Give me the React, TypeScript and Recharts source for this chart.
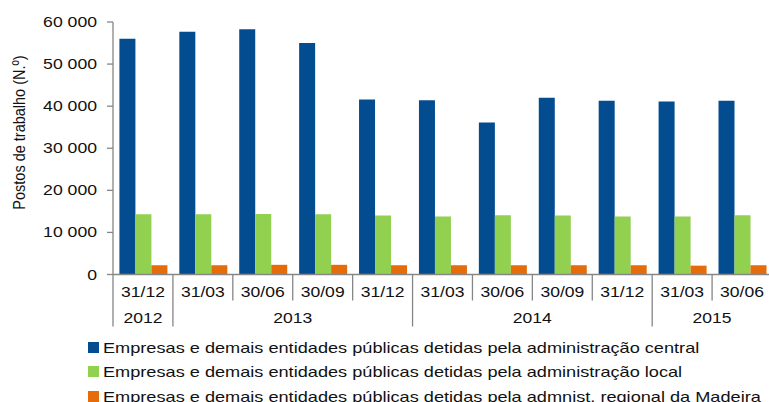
import React from "react";
import { BarChart, Bar, XAxis, YAxis, Legend } from "recharts";

// Postos de trabalho por trimestre
const categories = ["31/12", "31/03", "30/06", "30/09", "31/12", "31/03", "30/06", "30/09", "31/12", "31/03", "30/06"];
const years = ["2012", "2013", "2013", "2013", "2013", "2014", "2014", "2014", "2014", "2015", "2015"];
const central = [56000, 57700, 58300, 55000, 41600, 41400, 36100, 42000, 41300, 41100, 41300];
const local = [14300, 14300, 14400, 14300, 14000, 13800, 14100, 14000, 13800, 13800, 14100];
const madeira = [2200, 2200, 2300, 2300, 2200, 2200, 2200, 2200, 2200, 2100, 2200];
const yTicks = [0, 10000, 20000, 30000, 40000, 50000, 60000];

const seriesNames = [
	"Empresas e demais entidades públicas detidas pela administração central",
	"Empresas e demais entidades públicas detidas pela administração local",
	"Empresas e demais entidades públicas detidas pela admnist. regional da Madeira",
];
const colors = ["#024c8f", "#92d050", "#e46c0a"];

const data = categories.map((c, i) => ({
	label: c,
	year: years[i],
	central: central[i],
	local: local[i],
	madeira: madeira[i],
}));

const W = 772;
const H = 402;
const Y_W = 113;
const BAND = (W - Y_W) / categories.length;
const FONT = "'Liberation Sans', Arial, sans-serif";
const AXIS = "#868686";
const INK = "#111";

const fmt = (v: number) => String(v).replace(/\B(?=(\d{3})+(?!\d))/g, " ");

// the source picture is a bit stretched sideways, so the texts are too
function Stretched({ x, y, sx, size, anchor, children }: any) {
	return (
		<text
			transform={`translate(${x} ${y}) scale(${sx} 1)`}
			textAnchor={anchor}
			fontSize={size}
			fill={INK}
			fontFamily={FONT}
		>
			{children}
		</text>
	);
}

function XTick(props: any) {
	const { x, y, payload } = props;
	const i = payload.index;
	const left = x - BAND / 2;
	const first = i === 0 || years[i] !== years[i - 1];
	let n = 0;
	if (first) {
		while (i + n < years.length && years[i + n] === years[i]) n++;
	}
	return (
		<g>
			<line x1={left} x2={left} y1={y} y2={y + (first ? 52 : 26)} stroke={AXIS} strokeWidth={1.3} />
			<Stretched x={x} y={y + 22.5} sx={1.17} size={15} anchor="middle">
				{payload.value}
			</Stretched>
			{first && (
				<Stretched x={left + (n * BAND) / 2} y={y + 48} sx={1.17} size={15} anchor="middle">
					{years[i]}
				</Stretched>
			)}
		</g>
	);
}

function YTick(props: any) {
	const { x, y, payload } = props;
	return (
		<Stretched x={x} y={y + 5} sx={1.26} size={14} anchor="end">
			{fmt(payload.value)}
		</Stretched>
	);
}

function LegendBox() {
	return (
		<div style={{ fontFamily: FONT, fontSize: 15, color: INK }}>
			{seriesNames.map((name, i) => (
				<div key={name} style={{ display: "flex", alignItems: "center", height: 24.3, whiteSpace: "nowrap" }}>
					<span style={{ display: "inline-block", width: 11, height: 11, background: colors[i], marginRight: 4 }} />
					<span style={{ display: "inline-block", transform: "scaleX(1.21)", transformOrigin: "left center" }}>{name}</span>
				</div>
			))}
		</div>
	);
}

export default function App() {
	return (
		<div style={{ position: "absolute", left: 0, top: 0, width: 769, height: 402, overflow: "hidden", background: "#fff" }}>
			<BarChart
				width={W}
				height={H}
				data={data}
				margin={{ top: 22, right: 0, left: 0, bottom: 0 }}
				barCategoryGap="10.7%"
				barGap={0}
			>
				<XAxis
					dataKey="label"
					height={127.5}
					interval={0}
					tickSize={0}
					tickMargin={0}
					axisLine={{ stroke: AXIS, strokeWidth: 1.5 }}
					tick={<XTick />}
				/>
				<YAxis
					width={Y_W}
					domain={[0, 60000]}
					ticks={yTicks}
					tickSize={6}
					tickMargin={10}
					axisLine={{ stroke: AXIS, strokeWidth: 1.3 }}
					tickLine={{ stroke: AXIS, strokeWidth: 1.3 }}
					tick={<YTick />}
					label={{
						content: () => (
							<text
								transform="translate(19 132.5) rotate(-90) scale(1 1.2)"
								textAnchor="middle"
								dominantBaseline="central"
								fontSize={14.5}
								fill={INK}
								fontFamily={FONT}
							>
								Postos de trabalho (N.º)
							</text>
						),
					}}
				/>
				<Legend
					layout="vertical"
					align="center"
					verticalAlign="middle"
					content={<LegendBox />}
					wrapperStyle={{ position: "absolute", left: 88, top: 335.5, width: "auto" }}
				/>
				<Bar dataKey="central" name={seriesNames[0]} fill={colors[0]} isAnimationActive={false} />
				<Bar dataKey="local" name={seriesNames[1]} fill={colors[1]} isAnimationActive={false} />
				<Bar dataKey="madeira" name={seriesNames[2]} fill={colors[2]} isAnimationActive={false} />
			</BarChart>
		</div>
	);
}
